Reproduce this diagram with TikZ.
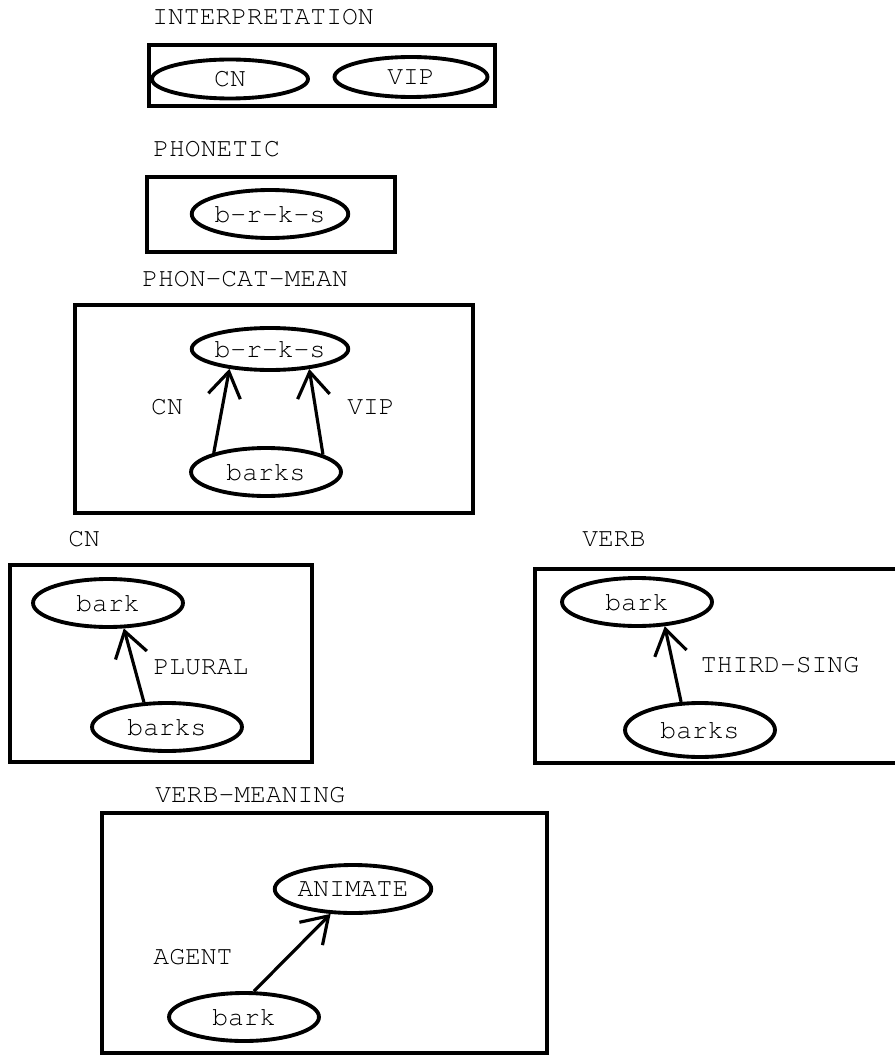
\documentclass[tikz,border=0pt]{standalone}
\usepackage[T1]{fontenc}
\usepackage{courier}
\usetikzlibrary{shapes.geometric,arrows.meta}
\tikzset{
  panel/.style={line width=2pt},
  sense/.style={draw,ellipse,line width=2.2pt,minimum width=3cm,minimum height=0.96cm,inner sep=0pt},
  title/.style={anchor=west,inner sep=0pt},
  link/.style={line width=1.8pt,-{Straight Barb[length=5mm,width=6.5mm]}}
}
\begin{document}
\begin{tikzpicture}[x=0.02cm,y=-0.02cm,every node/.style={font=\fontsize{15}{18}\selectfont\ttfamily}]
  \useasboundingbox (0,0) rectangle (895,1057);
  % interpretation
  \node[title] (tInt) at (152,17) {INTERPRETATION};
  \draw[panel] (149,45) rectangle (495,106);
  \node[sense,minimum width=3.12cm,minimum height=0.78cm] (cnI) at (230,79) {CN};
  \node[sense,minimum width=3.06cm,minimum height=0.8cm] (vipI) at (411,77) {VIP};
  % phonetic
  \node[title] (tPho) at (153,149) {PHONETIC};
  \draw[panel] (147,177) rectangle (395,252);
  \node[sense] (brksP) at (270,214) {b-r-k-s};
  % phon-cat-mean
  \node[title] (tPcm) at (142,279) {PHON-CAT-MEAN};
  \draw[panel] (75,305) rectangle (473,513);
  \node[sense,minimum width=2.9cm,minimum height=0.84cm] (brksM) at (270,349) {b-r-k-s};
  \node[sense] (barksM) at (266,472) {barks};
  \draw[link] (barksM.160) -- (brksM.206);
  \draw[link] (barksM.17) -- (brksM.-27);
  \node (cnM) at (167,407) {CN};
  \node (vipM) at (371,407) {VIP};
  % cn
  \node[title] (tCn) at (68,539) {CN};
  \draw[panel] (10,565) rectangle (312,762);
  \node[sense] (barkC) at (108,603) {bark};
  \node[sense] (barksC) at (167,727) {barks};
  \draw[link] (barksC.133) -- (barkC.-58);
  \node (plural) at (201,667) {PLURAL};
  % verb (open on the right)
  \node[title] (tVerb) at (582,539) {VERB};
  \draw[panel] (895,569) -- (535,569) -- (535,763) -- (895,763);
  \node[sense] (barkV) at (637,602) {bark};
  \node[sense,minimum height=1.08cm] (barksV) at (700,730) {barks};
  \draw[link] (barksV.124) -- (barkV.-41);
  \node (third) at (780,665) {THIRD-SING};
  % verb-meaning
  \node[title] (tVm) at (155,795) {VERB-MEANING};
  \draw[panel] (102,813) rectangle (547,1053);
  \node[sense] (animate) at (353,889) {ANIMATE};
  \node[sense] (barkM) at (244,1017) {bark};
  \draw[link] (barkM.69) -- (animate.228);
  \node (agent) at (193,957) {AGENT};
\end{tikzpicture}
\end{document}
